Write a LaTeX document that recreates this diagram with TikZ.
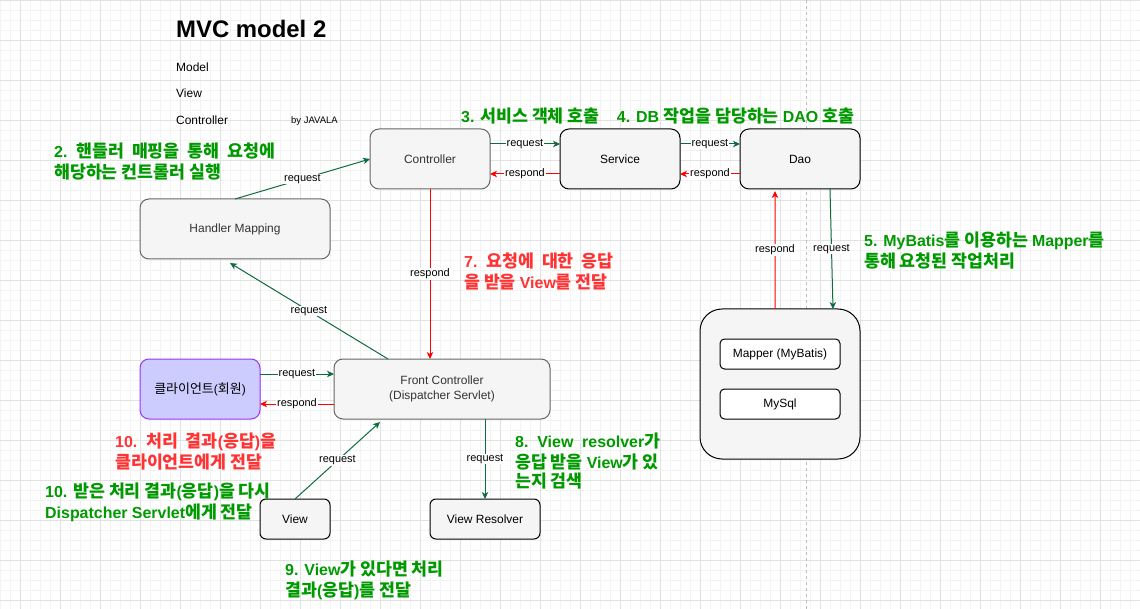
\documentclass[tikz,border=0pt]{standalone}
\usepackage{fontspec}
\setmainfont{Liberation Sans}
\newfontfamily\krfont[Scale=1.085]{Noto Sans CJK KR}
\newfontfamily\latfont{Liberation Sans}
\usetikzlibrary{arrows.meta,calc}
\XeTeXinterchartokenstate=1
\newXeTeXintercharclass\krcls
\count255="AC00
\loop
  \XeTeXcharclass\count255=\krcls
  \ifnum\count255<"D7A3 \advance\count255 by 1
\repeat
\XeTeXinterchartoks 0 \krcls = {\krfont}
\XeTeXinterchartoks 4095 \krcls = {\krfont}
\XeTeXinterchartoks \krcls 0 = {\latfont}
\XeTeXinterchartoks 4095 0 = {\latfont}
\definecolor{gminor}{HTML}{F3F3F3}
\definecolor{gmajor}{HTML}{E2E2E2}
\definecolor{cdash}{HTML}{BBBBBB}
\definecolor{hgreen}{HTML}{009900}
\definecolor{hred}{HTML}{FF3333}
\definecolor{egreen}{HTML}{0E6B3C}
\definecolor{ered}{HTML}{FF0000}
\definecolor{cboxfill}{HTML}{F5F5F5}
\definecolor{cgrayline}{HTML}{666666}
\definecolor{ctext}{HTML}{333333}
\definecolor{clilac}{HTML}{CCCCFF}
\definecolor{cpurple}{HTML}{9933FF}
\begin{document}
\begin{tikzpicture}[x=1bp,y=-1bp,
  box/.style={draw=cgrayline, fill=cboxfill, rounded corners=9bp, line width=1bp,
    inner sep=2bp, outer sep=0pt, font=\fontsize{12}{15.7}\selectfont, text=ctext, align=center},
  garrow/.style={draw=egreen, line width=1bp, -{Stealth[length=7bp,width=6.5bp,inset=2bp]}},
  rarrow/.style={draw=ered, line width=1bp, -{Stealth[length=7bp,width=6.5bp,inset=2bp]}},
  lbl/.style={fill=white, inner sep=0.8bp, font=\fontsize{11}{13}\selectfont, text=black},
  htxt/.style={anchor=north west, inner sep=0pt, align=left,
    font=\fontsize{16}{18.7}\selectfont\bfseries},
  gtxt/.style={htxt, text=hgreen},
  rtxt/.style={htxt, text=hred},
  plain/.style={anchor=base west, inner sep=0pt, font=\fontsize{12}{14}\selectfont}
]
\useasboundingbox (0,0) rectangle (1140,609);
\fill[white] (0,0) rectangle (1140,609);
% grid
\foreach \x in {0,10,...,1140} \draw[gminor, line width=1bp] (\x+0.5,0) -- (\x+0.5,609);
\foreach \y in {0,10,...,600} \draw[gminor, line width=1bp] (0,\y+0.5) -- (1140,\y+0.5);
\foreach \x in {20,60,...,1140} \draw[gmajor, line width=1bp] (\x+0.5,0) -- (\x+0.5,609);
\foreach \y in {0,40,...,600} \draw[gmajor, line width=1bp] (0,\y+0.5) -- (1140,\y+0.5);
\draw[cdash, line width=1bp, dash pattern=on 3bp off 3bp] (806.5,0) -- (806.5,609);

% title block
\node[anchor=base west, inner sep=0pt, font=\fontsize{24}{28}\selectfont\bfseries] (title) at (176,37.3) {MVC model 2};
\node[plain] (tmodel) at (176,71.5) {Model};
\node[plain] (tview) at (176,97.3) {View};
\node[plain] (tctrl) at (176,124.3) {Controller};
\node[anchor=base west, inner sep=0pt, font=\fontsize{9.5}{11}\selectfont] (tby) at (291,123.5) {by JAVALA};

% boxes
\node[box, minimum width=120bp, minimum height=60bp] (ctrl) at (430,159) {Controller};
\node[box, draw=black, text=black, minimum width=120bp, minimum height=60bp] (svc) at (620,159) {Service};
\node[box, draw=black, text=black, minimum width=120bp, minimum height=60bp] (dao) at (800,159) {Dao};
\node[box, minimum width=190bp, minimum height=60bp] (hm) at (235,229) {Handler Mapping};
\node[box, minimum width=216bp, minimum height=60bp] (fc) at (442,389) {Front Controller\\(Dispatcher Servlet)};
\node[box, draw=cpurple, fill=clilac, text=black, minimum width=120bp, minimum height=60bp] (cli) at (200,389) {클라이언트(회원)};
\node[box, draw=black, text=black, rounded corners=6bp, minimum width=70bp, minimum height=40bp] (view) at (295,519) {View};
\node[box, draw=black, text=black, rounded corners=6bp, minimum width=110bp, minimum height=40bp] (vr) at (485,519) {View Resolver};
\node[box, draw=black, rounded corners=22bp, minimum width=160bp, minimum height=150bp] (db) at (780,384) {};
\node[box, draw=black, fill=white, text=black, rounded corners=4.5bp, minimum width=120bp, minimum height=30bp] (mapper) at (780,354) {Mapper (MyBatis)};
\node[box, draw=black, fill=white, text=black, rounded corners=4.5bp, minimum width=120bp, minimum height=30bp] (mysql) at (780,404) {MySql};

% connectors
\draw[garrow] ([yshift=15bp]ctrl.east) -- node[lbl]{request} ([yshift=15bp]svc.west);
\draw[rarrow] ([yshift=-15bp]svc.west) -- node[lbl]{respond} ([yshift=-15bp]ctrl.east);
\draw[garrow] ([yshift=15bp]svc.east) -- node[lbl]{request} ([yshift=15bp]dao.west);
\draw[rarrow] ([yshift=-15bp]dao.west) -- node[lbl]{respond} ([yshift=-15bp]svc.east);
\draw[garrow] (hm.north) -- node[lbl]{request} (ctrl.west);
\draw[garrow] ($(fc.north west)+(54,0)$) -- node[lbl]{request} ($(hm.south)+(-5,4)$);
\draw[rarrow] (ctrl.south) -- node[lbl]{respond} (ctrl.south |- fc.north);
\draw[garrow] ([yshift=15bp]cli.east) -- node[lbl]{request} ([yshift=15bp]cli.east -| fc.west);
\draw[rarrow] ([yshift=-15bp]fc.west) -- node[lbl]{respond} ([yshift=-15bp]fc.west -| cli.east);
\draw[garrow] (view.north) -- node[lbl]{request} ($(fc.south west)+(46,3)$);
\draw[garrow] (fc.south -| vr.north) -- node[lbl]{request} (vr.north);
\draw[garrow] ($(dao.south west)+(90,0)$) -- node[lbl]{request} ($(db.north west)+(133,0)$);
\draw[rarrow] ($(db.north west)+(75,0)$) -- node[lbl]{respond} ($(dao.south west)+(35,2)$);

% annotations
\node[gtxt] (n2) at (54,142.7) {\strut 2.\ \ 핸들러\ \ 매핑을\ \ 통해\ \ 요청에\\해당하는 컨트롤러 실행};
\node[gtxt] (n3) at (461,107.4) {\strut 3. 서비스 객체 호출};
\node[gtxt] (n4) at (616.7,107.4) {\strut 4. DB 작업을 담당하는 DAO 호출};
\node[gtxt] (n5) at (864,231.7) {\strut 5. MyBatis를 이용하는 Mapper를\\통해 요청된 작업처리};
\node[rtxt] (n7) at (464,252.7) {\strut 7.\ \ 요청에\ \ 대한\ \ 응답\\을 받을 View를 전달};
\node[gtxt] (n8) at (515,432.7) {\strut 8.\ \ View\ \ resolver가\\응답 받을 View가 있\\는지 검색};
\node[rtxt] (n10r) at (115,432.4) {\strut 10.\ \ 처리\ \ 결과(응답)을\\클라이언트에게 전달};
\node[gtxt] (n10g) at (45,482.7) {\strut 10. 받은 처리 결과(응답)을 다시\\Dispatcher Servlet에게 전달};
\node[gtxt] (n9) at (285,560.7) {\strut 9. View가 있다면 처리\\결과(응답)를 전달};
\end{tikzpicture}
\end{document}
